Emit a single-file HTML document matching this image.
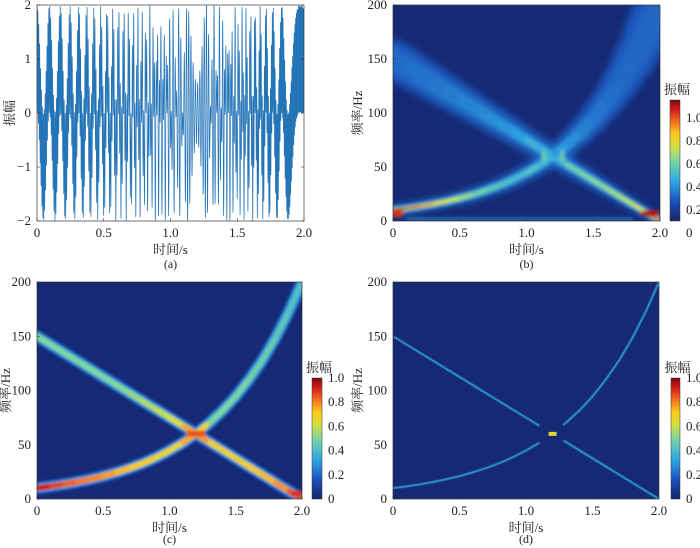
<!DOCTYPE html>
<html><head><meta charset="utf-8">
<style>
html,body{margin:0;padding:0;background:#fff;}
svg{display:block;font-family:"Liberation Serif","Noto Serif CJK SC",serif;}
</style></head>
<body>
<svg id="fig" width="700" height="548" viewBox="0 0 700 548" xmlns="http://www.w3.org/2000/svg">
<defs>
<linearGradient id="jet" x1="0" y1="1" x2="0" y2="0">
<stop offset="0" stop-color="#15246a"/><stop offset="0.15" stop-color="#1d4cb8"/>
<stop offset="0.33" stop-color="#2ea9e4"/><stop offset="0.5" stop-color="#7fd6a0"/>
<stop offset="0.62" stop-color="#d6e03a"/><stop offset="0.72" stop-color="#f8c820"/>
<stop offset="0.82" stop-color="#f07020"/><stop offset="0.92" stop-color="#d41c1c"/>
<stop offset="1" stop-color="#7a0a10"/></linearGradient>
<filter id="blurB" filterUnits="userSpaceOnUse" x="0" y="0" width="700" height="548"><feGaussianBlur stdDeviation="4"/></filter>
<filter id="blurB2" filterUnits="userSpaceOnUse" x="0" y="0" width="700" height="548"><feGaussianBlur stdDeviation="1.6"/></filter>
<filter id="blurC" filterUnits="userSpaceOnUse" x="0" y="0" width="700" height="548"><feGaussianBlur stdDeviation="1.2"/></filter>
<filter id="blurD" filterUnits="userSpaceOnUse" x="0" y="0" width="700" height="548"><feGaussianBlur stdDeviation="0.4"/></filter>
</defs>
</svg>
<script>
// ---- data ----
const times = [0,0.1,0.2,0.3,0.4,0.5,0.6,0.7,0.8,0.9,1.0,1.1,1.2,1.3,1.4,1.5,1.6,1.7,1.8,1.9,2.0];
const ridgeDown = [150,142.5,135,127.5,120,112.5,105,97.5,90,82.5,75,67.5,60,52.5,45,37.5,30,22.5,15,7.5,0];
const ridgeUp = [10,11.6,13.5,15.7,18.2,21.1,24.5,28.5,33,38.4,44.7,51.9,60.3,70,81.4,94.6,110,127.7,148.4,172.5,200];
const ampDownC = [0.5,0.5,0.5,0.5,0.5,0.5,0.5,0.52,0.55,0.58,0.6,0.65,0.85,0.7,0.68,0.68,0.7,0.72,0.75,0.8,0.9];
const ampUpC = [0.95,0.9,0.85,0.82,0.8,0.78,0.75,0.72,0.7,0.68,0.66,0.66,0.85,0.5,0.5,0.5,0.48,0.46,0.45,0.42,0.4];
const ampDownB = [0.2,0.22,0.22,0.23,0.24,0.25,0.26,0.27,0.28,0.3,0.33,0.4,0.3,0.45,0.48,0.5,0.52,0.55,0.62,0.75,1.0];
const ampUpB = [1.0,0.92,0.85,0.75,0.66,0.58,0.5,0.46,0.42,0.4,0.38,0.45,0.3,0.3,0.26,0.24,0.22,0.21,0.2,0.2,0.2];
const freqTicks = [0,50,100,150,200];
const timeTicks = [0,0.5,1.0,1.5,2.0];
const timeTickLabels = ["0","0.5","1.0","1.5","2.0"];
const ampTicks = [-2,-1,0,1,2];
const cbTicksB = [0,0.2,0.4,0.6,0.8,1.0];
const cbTicksCD = [0,0.2,0.4,0.6,0.8,1.0];

const NS="http://www.w3.org/2000/svg";
const svg=document.getElementById('fig');
function el(tag,attrs,parent){const e=document.createElementNS(NS,tag);for(const k in attrs)e.setAttribute(k,attrs[k]);(parent||svg).appendChild(e);return e;}
function txt(s,x,y,attrs,parent){const e=el('text',Object.assign({x:x,y:y,'font-size':13,fill:'#222','text-anchor':'middle'},attrs||{}),parent);e.textContent=s;return e;}

const PA={x0:37,x1:304,y0:5,y1:221};
const PB={x0:393,x1:660,y0:5,y1:221};
const PC={x0:37,x1:302,y0:282,y1:499};
const PD={x0:393,x1:659,y0:282,y1:499};
function X(p,t){return p.x0+t/2*(p.x1-p.x0);}
function Yf(p,f){return p.y1-f/200*(p.y1-p.y0);}
function Ya(p,a){return p.y1-(a+2)/4*(p.y1-p.y0);}

function jet(v){
  const st=[[0,[21,36,106]],[0.15,[29,76,184]],[0.33,[46,169,228]],[0.5,[127,214,160]],[0.62,[214,224,58]],[0.72,[248,200,32]],[0.82,[240,112,32]],[0.92,[212,28,28]],[1,[122,10,16]]];
  v=Math.max(0,Math.min(1,v));
  for(let i=1;i<st.length;i++){if(v<=st[i][0]){const a=st[i-1],b=st[i];const r=(v-a[0])/(b[0]-a[0]);const c=a[1].map((x,j)=>Math.round(x+(b[1][j]-x)*r));return `rgb(${c[0]},${c[1]},${c[2]})`;}}
  return 'rgb(122,10,16)';
}

function xAxis(p,g,caption,cy){
  timeTicks.forEach((t,i)=>{
    el('line',{x1:X(p,t),x2:X(p,t),y1:p.y1,y2:p.y1-3,stroke:'#333','stroke-width':0.6},g);
    const e=txt(timeTickLabels[i],X(p,t),p.y1+16,{},g);
    
    
  });
  const xl=txt('时间/s',(p.x0+p.x1)/2,p.y1+33,{'font-size':13},g);
  
  const cp=txt(caption,(p.x0+p.x1)/2,cy,{'font-size':12},g);
  
}
function fAxis(p,g,lx){
  freqTicks.forEach(f=>{
    el('line',{x1:p.x0,x2:p.x0+3,y1:Yf(p,f),y2:Yf(p,f),stroke:'#333','stroke-width':0.6},g);
    const e=txt(String(f),p.x0-6,Yf(p,f)+4,{'text-anchor':'end'},g);
    
  });
  const yl=txt('频率/Hz',0,0,{'font-size':13,transform:`translate(${lx},${(p.y0+p.y1)/2}) rotate(-90)`},g);
  
}
function colorbar(g,x,w,y0,y1,ticks,labY){
  const cb=el('rect',{x:x,y:y0,width:w,height:y1-y0,fill:'url(#jet)',stroke:'#333','stroke-width':0.5},g);
  
  ticks.forEach(v=>{
    const y=labY(v);
    const e=txt(v===0?'0':v.toFixed(1),x+w+6,y+4,{'text-anchor':'start'},g);
    
  });
  const t=txt('振幅',x+w/2+2,y0-6,{'font-size':13},g);
  
}
function clip(id,p){const c=el('clipPath',{id:id});el('rect',{x:p.x0,y:p.y0,width:p.x1-p.x0,height:p.y1-p.y0},c);return `url(#${id})`;}
function interp(arr,t){const i=Math.min(times.length-2,Math.floor(t/0.1));const r=(t-times[i])/0.1;return arr[i]+(arr[i+1]-arr[i])*r;}

function ridgeLayer(g,p,arrF,amp,wfun,L){
  for(let i=0;i<times.length-1;i++){
    const x1=X(p,times[i]),y1=Yf(p,arrF[i]),x2=X(p,times[i+1]),y2=Yf(p,arrF[i+1]);
    const v=(amp[i]+amp[i+1])/2;const w=wfun((arrF[i]+arrF[i+1])/2);
    const s=el('line',{x1:x1,y1:y1,x2:x2,y2:y2,stroke:jet(Math.min(v,L[1])),'stroke-width':w*L[0],'stroke-linecap':'round'},g);
    
    
  }
}

// ---- Panel A ----
(function(){
  const g=el('g',{});
  el('rect',{x:PA.x0,y:PA.y0,width:PA.x1-PA.x0,height:PA.y1-PA.y0,fill:'#fff'},g);
  let ph1=0,ph2=0,pts=[];const dt=0.0005;
  for(let t=0;t<=2.0001;t+=dt){
    const s=Math.cos(2*Math.PI*ph1)+Math.cos(2*Math.PI*ph2);
    pts.push(X(PA,t).toFixed(2)+','+Ya(PA,s).toFixed(2));
    ph1+=interp(ridgeDown,Math.min(t,1.999))*dt;ph2+=interp(ridgeUp,Math.min(t,1.999))*dt;
  }
  const l=el('polyline',{points:pts.join(' '),fill:'none',stroke:'#2474b8','stroke-width':0.7,'clip-path':clip('ca',PA)},g);
  
  el('rect',{x:PA.x0,y:PA.y0,width:PA.x1-PA.x0,height:PA.y1-PA.y0,fill:'none',stroke:'#333','stroke-width':0.7},g);
  ampTicks.forEach(a=>{
    el('line',{x1:PA.x0,x2:PA.x0+3,y1:Ya(PA,a),y2:Ya(PA,a),stroke:'#333','stroke-width':0.6},g);
    el('line',{x1:PA.x1,x2:PA.x1-3,y1:Ya(PA,a),y2:Ya(PA,a),stroke:'#333','stroke-width':0.6},g);
    const e=txt(a<0?'−'+(-a):String(a),PA.x0-6,Ya(PA,a)+4,{'text-anchor':'end'},g);
    
  });
  const yl=txt('振幅',0,0,{'font-size':13,transform:`translate(14,${(PA.y0+PA.y1)/2}) rotate(-90)`},g);
  
  xAxis(PA,g,'(a)',268);
})();

// ---- Panel B ----
(function(){
  const g=el('g',{});
  el('rect',{x:PB.x0,y:PB.y0,width:PB.x1-PB.x0,height:PB.y1-PB.y0,fill:jet(0.02)},g);
  const inner=el('g',{'clip-path':clip('cb',PB)},g);
  const wf=f=>6+f*0.2;
  const outer=el('g',{filter:'url(#blurB)'},inner);
  [[1.1,0.17],[0.6,0.24]].forEach(L=>{ridgeLayer(outer,PB,ridgeDown,ampDownB,wf,L);ridgeLayer(outer,PB,ridgeUp,ampUpB,wf,L);});
  const core=el('g',{filter:'url(#blurB2)'},inner);
  const wc=f=>10+f*0.04;
  [[0.75,0.3],[0.45,0.55],[0.22,1]].forEach(L=>{ridgeLayer(core,PB,ridgeDown,ampDownB,wc,L);ridgeLayer(core,PB,ridgeUp,ampUpB,wc,L);});
  el('line',{x1:X(PB,0.1),y1:Yf(PB,2),x2:X(PB,1.8),y2:Yf(PB,2),stroke:jet(0.3),'stroke-width':2},core);
  el('ellipse',{cx:X(PB,0.03),cy:Yf(PB,7),rx:7,ry:3.5,fill:jet(0.9)},core);
  el('ellipse',{cx:X(PB,1.93),cy:Yf(PB,7),rx:10,ry:3.5,fill:jet(0.95)},core);
  el('ellipse',{cx:X(PB,1.13),cy:Yf(PB,60),rx:2.5,ry:7,fill:jet(0.45)},core);
  el('ellipse',{cx:X(PB,1.27),cy:Yf(PB,60),rx:2.5,ry:7,fill:jet(0.45)},core);
  el('rect',{x:PB.x0,y:PB.y0,width:PB.x1-PB.x0,height:PB.y1-PB.y0,fill:'none',stroke:'#333','stroke-width':0.7},g);
  fAxis(PB,g,362);xAxis(PB,g,'(b)',268);
  colorbar(g,670,10,100,221,cbTicksB,v=>233-v*115);
})();

// ---- Panel C ----
(function(){
  const g=el('g',{});
  el('rect',{x:PC.x0,y:PC.y0,width:PC.x1-PC.x0,height:PC.y1-PC.y0,fill:jet(0.02)},g);
  const inner=el('g',{'clip-path':clip('cc',PC),filter:'url(#blurC)'},g);
  [[1,0.14],[0.72,0.3],[0.45,1],[0.18,1.2]].forEach(L=>{
    ridgeLayer(inner,PC,ridgeDown,ampDownC,f=>13,L);
    ridgeLayer(inner,PC,ridgeUp,ampUpC,f=>13,L);
  });
  el('rect',{x:X(PC,1.13),y:Yf(PC,63),width:X(PC,1.27)-X(PC,1.13),height:6,fill:jet(0.85)},inner);
  el('ellipse',{cx:X(PC,1.96),cy:Yf(PC,5),rx:6,ry:3,fill:jet(0.9)},inner);
  el('rect',{x:PC.x0,y:PC.y0,width:PC.x1-PC.x0,height:PC.y1-PC.y0,fill:'none',stroke:'#333','stroke-width':0.7},g);
  fAxis(PC,g,10);xAxis(PC,g,'(c)',543);
  colorbar(g,312,10,378,499,cbTicksCD,v=>499-v*121);
})();

// ---- Panel D ----
(function(){
  const g=el('g',{});
  el('rect',{x:PD.x0,y:PD.y0,width:PD.x1-PD.x0,height:PD.y1-PD.y0,fill:jet(0.02)},g);
  const inner=el('g',{'clip-path':clip('cd',PD)},g);
  [ridgeDown,ridgeUp].forEach(arr=>{
    [[0,11],[13,20]].forEach(rg=>{
      let pts=[];
      for(let i=rg[0];i<=rg[1];i++){let t=times[i];if(i===11)t=1.1;if(i===13)t=1.28;const f=(i===11||i===13)?interp(arr,t):arr[i];pts.push(X(PD,t)+','+Yf(PD,f));}
      const l=el('polyline',{points:pts.join(' '),fill:'none',stroke:jet(0.32),'stroke-width':1.8,filter:'url(#blurD)'},inner);
      
    });
  });
  el('rect',{x:X(PD,1.17),y:Yf(PD,60)-2,width:X(PD,1.23)-X(PD,1.17),height:4,fill:jet(0.65)},inner);
  el('rect',{x:PD.x0,y:PD.y0,width:PD.x1-PD.x0,height:PD.y1-PD.y0,fill:'none',stroke:'#333','stroke-width':0.7},g);
  fAxis(PD,g,362);xAxis(PD,g,'(d)',543);
  colorbar(g,671,9,378,499,cbTicksCD,v=>499-v*121);
})();
</script>
</body></html>
